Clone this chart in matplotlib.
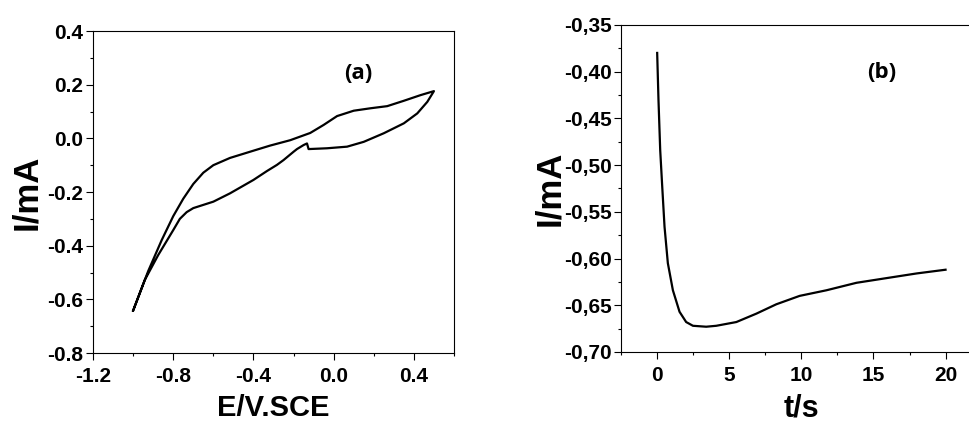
import matplotlib
matplotlib.use("Agg")
import matplotlib.pyplot as plt
from matplotlib.ticker import MultipleLocator, FixedLocator

plt.rcParams["font.family"] = "Liberation Sans"
plt.rcParams["font.weight"] = "bold"
plt.rcParams["axes.labelweight"] = "bold"
plt.rcParams["axes.unicode_minus"] = False

# (a) cyclic voltammogram, E in V vs SCE, I in mA
cv_E = [-1.0, -0.925, -0.858, -0.80, -0.75, -0.70, -0.65, -0.60, -0.517, -0.40,
        -0.317, -0.217, -0.117, -0.05, 0.017, 0.10, 0.183, 0.267, 0.35, 0.433, 0.50,
        0.467, 0.417, 0.35, 0.25, 0.15, 0.067, -0.033, -0.125, -0.133, -0.15,
        -0.183, -0.2, -0.25, -0.283, -0.333, -0.40, -0.517, -0.60, -0.70,
        -0.733, -0.767, -0.80, -0.875, -0.942, -1.0]
cv_I = [-0.642, -0.495, -0.380, -0.290, -0.225, -0.170, -0.128, -0.100, -0.073, -0.046,
        -0.027, -0.007, 0.020, 0.050, 0.083, 0.103, 0.112, 0.120, 0.140, 0.161, 0.176,
        0.136, 0.093, 0.056, 0.019, -0.013, -0.031, -0.037, -0.040, -0.019, -0.025,
        -0.040, -0.050, -0.081, -0.099, -0.122, -0.155, -0.205, -0.236, -0.260,
        -0.275, -0.300, -0.342, -0.435, -0.528, -0.642]

# (b) chronoamperogram, t in s, I in mA
ca_t = [0.0, 0.09, 0.21, 0.35, 0.51, 0.74, 1.09, 1.55, 2.01, 2.48, 3.40, 4.10,
        5.49, 6.88, 8.26, 9.88, 11.74, 13.82, 15.90, 17.99, 20.0]
ca_I = [-0.380, -0.430, -0.484, -0.523, -0.566, -0.605, -0.634, -0.657, -0.668,
        -0.672, -0.673, -0.672, -0.668, -0.659, -0.649, -0.640, -0.634, -0.626,
        -0.621, -0.616, -0.612]

ya_ticks = [-0.8, -0.6, -0.4, -0.2, 0.0, 0.2, 0.4]
xa_ticks = [-1.2, -0.8, -0.4, 0.0, 0.4]
yb_ticks = [-0.70, -0.65, -0.60, -0.55, -0.50, -0.45, -0.40, -0.35]
xb_ticks = [0, 5, 10, 15, 20]

fig = plt.figure(figsize=(9.69, 4.22), dpi=100)
ax1 = fig.add_axes([0.096, 0.1635, 0.3725, 0.763])
ax2 = fig.add_axes([0.641, 0.166, 0.372, 0.775])

ax1.plot(cv_E, cv_I, color="black", lw=1.6, solid_joinstyle="round")
ax1.set_xlim(-1.2, 0.6)
ax1.set_ylim(-0.8, 0.4)
ax1.xaxis.set_major_locator(FixedLocator(xa_ticks))
ax1.yaxis.set_major_locator(FixedLocator(ya_ticks))
ax1.set_xticklabels([f"{v:.1f}" for v in xa_ticks])
ax1.set_yticklabels([f"{v:.1f}" for v in ya_ticks])
ax1.xaxis.set_minor_locator(MultipleLocator(0.2))
ax1.yaxis.set_minor_locator(MultipleLocator(0.1))
ax1.set_xlabel("E/V.SCE", fontsize=21, labelpad=6)
ax1.set_ylabel("I/mA", fontsize=25, labelpad=3)
ax1.text(0.125, 0.243, "(a)", fontsize=16, family="Open Sans", fontweight="bold",
         ha="center", va="center")

ax2.plot(ca_t, ca_I, color="black", lw=1.6, solid_joinstyle="round")
ax2.set_xlim(-2.5, 22.5)
ax2.set_ylim(-0.70, -0.35)
ax2.xaxis.set_major_locator(FixedLocator(xb_ticks))
ax2.yaxis.set_major_locator(FixedLocator(yb_ticks))
ax2.set_xticklabels([str(v) for v in xb_ticks])
ax2.set_yticklabels([f"{v:.2f}".replace(".", ",") for v in yb_ticks])
ax2.xaxis.set_minor_locator(MultipleLocator(2.5))
ax2.yaxis.set_minor_locator(MultipleLocator(0.025))
ax2.set_xlabel("t/s", fontsize=22, labelpad=6)
ax2.set_ylabel("I/mA", fontsize=25, labelpad=-2)
ax2.text(15.6, -0.401, "(b)", fontsize=16, family="Open Sans", fontweight="bold",
         ha="center", va="center")
ax2.spines["right"].set_visible(False)

for ax in (ax1, ax2):
    for s in ax.spines.values():
        s.set_linewidth(0.8)
    ax.tick_params(which="major", direction="out", length=5, width=0.8,
                   labelsize=15, pad=2)
    ax.tick_params(which="minor", direction="out", length=2.5, width=0.8)
    ax.tick_params(axis="x", which="major", pad=5)

fig.savefig("out.png", dpi=100)
